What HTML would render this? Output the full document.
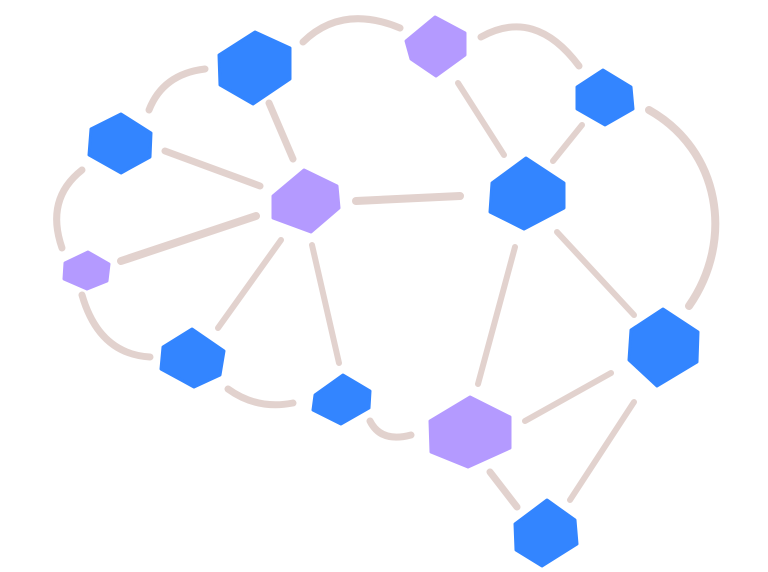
<!DOCTYPE html>
<html><head><meta charset="utf-8"><style>html,body{margin:0;padding:0;background:#fff}svg{display:block}</style></head>
<body>
<svg width="768" height="572" viewBox="0 0 768 572" xmlns="http://www.w3.org/2000/svg">
<g fill="none" stroke="#e2d2ce" stroke-width="7" stroke-linecap="round">
<path d="M149,110 Q163,74 205,69"/>
<path d="M303,42 Q342,4 400,28"/>
<path d="M481,37 Q535,7 579,66"/>
<path d="M649,110 C720,150 735,240 689,306" stroke-width="8"/>
<path d="M82,170 Q45,199 62,248"/>
<path d="M82,295 Q99,354 150,357"/>
<path d="M228,389 Q257,410 293,403"/>
<path d="M370,421 Q381,443 411,435"/>
<path d="M269,103 L293,159"/>
<path d="M165,151 L260,186"/>
<path d="M121,261 L256,216" stroke-width="8"/>
<path d="M281,240 L218,328" stroke-width="6"/>
<path d="M312,245 L339,363" stroke-width="6"/>
<path d="M356,201 L460,196" stroke-width="8"/>
<path d="M458,83 L504,155" stroke-width="6"/>
<path d="M582,125 L553,161" stroke-width="6"/>
<path d="M515,247 L478,384" stroke-width="6"/>
<path d="M557,232 L634,315" stroke-width="6"/>
<path d="M611,373 L525,421" stroke-width="6"/>
<path d="M634,402 L570,500" stroke-width="6"/>
<path d="M490,472 L517,507" stroke-width="7"/>
</g>
<g stroke-linejoin="round" stroke-width="3">
<polygon fill="#3385ff" stroke="#3385ff" points="255,32 290,48 290,79 253,104 220,85 219,55"/>
<polygon fill="#b49aff" stroke="#b49aff" points="435,17 465,33 465,55 436,76 411,59 406,41"/>
<polygon fill="#3385ff" stroke="#3385ff" points="603,70 631,87 633,109 605,125 577,109 577,87"/>
<polygon fill="#3385ff" stroke="#3385ff" points="121,114 151,133 150,157 121,173 89,155 91,129"/>
<polygon fill="#b49aff" stroke="#b49aff" points="304,170 337,186 339,208 311,232 273,218 273,196"/>
<polygon fill="#3385ff" stroke="#3385ff" points="526,158 564,183 564,208 524,229 490,212 492,183"/>
<polygon fill="#b49aff" stroke="#b49aff" points="88,252 109,264 107,281 87,289 64,279 65,263"/>
<polygon fill="#3385ff" stroke="#3385ff" points="192,329 224,351 220,375 194,387 161,369 163,347"/>
<polygon fill="#3385ff" stroke="#3385ff" points="663,309 698,332 697,362 657,386 629,360 631,330"/>
<polygon fill="#3385ff" stroke="#3385ff" points="343,375 370,391 369,408 341,424 313,410 315,395"/>
<polygon fill="#b49aff" stroke="#b49aff" points="470,397 510,417 510,448 468,467 431,452 430,421"/>
<polygon fill="#3385ff" stroke="#3385ff" points="547,500 575,520 577,544 542,566 516,550 515,524"/>
</g>
</svg>
</body></html>
